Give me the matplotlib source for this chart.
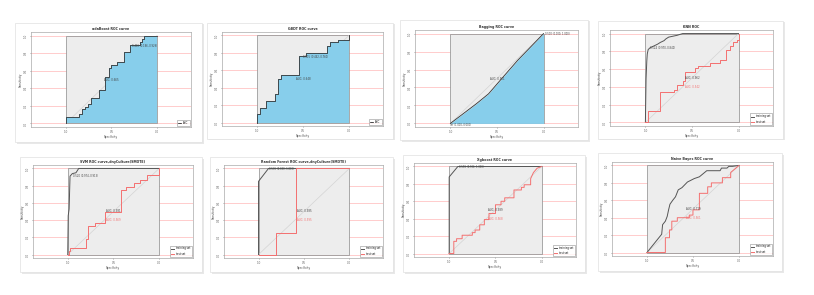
import matplotlib
matplotlib.use("Agg")
import matplotlib.pyplot as plt
from matplotlib.patches import Rectangle

W, H = 814, 295

titles = ["adaBoost ROC curve", "GBDT ROC curve", "Bagging ROC curve", "KNN ROC",
          "SVM ROC curve,dnyCulture(SMOTE)", "Random Forest ROC curve,dnyCulture(SMOTE)",
          "Xgboost ROC curve", "Naive Bayes ROC curve"]

# ---- panel 1: adaBoost (single curve, filled) ----
p1_fpr = [0, 0, 0.14, 0.14, 0.18, 0.18, 0.21, 0.21, 0.24, 0.24, 0.28, 0.28, 0.36, 0.36,
          0.43, 0.43, 0.47, 0.47, 0.50, 0.50, 0.56, 0.56, 0.64, 0.64, 0.70, 0.70,
          0.81, 0.81, 0.83, 0.83, 0.86, 0.86, 1.0]
p1_tpr = [0, 0.076, 0.076, 0.11, 0.11, 0.16, 0.16, 0.19, 0.19, 0.22, 0.22, 0.29, 0.29, 0.375,
          0.375, 0.53, 0.53, 0.63, 0.63, 0.66, 0.66, 0.70, 0.70, 0.81, 0.81, 0.89,
          0.89, 0.93, 0.93, 0.965, 0.965, 1.0, 1.0]
# ---- panel 2: GBDT ----
p2_fpr = [0, 0, 0.037, 0.037, 0.10, 0.10, 0.20, 0.20, 0.23, 0.23, 0.26, 0.26, 0.46, 0.46,
          0.53, 0.53, 0.76, 0.76, 0.79, 0.79, 0.885, 0.885, 1.0, 1.0]
p2_tpr = [0, 0.095, 0.095, 0.17, 0.17, 0.25, 0.25, 0.33, 0.33, 0.50, 0.50, 0.55, 0.55, 0.76,
          0.76, 0.80, 0.80, 0.875, 0.875, 0.92, 0.92, 0.95, 0.95, 1.0]
# ---- panel 3: Bagging ----
p3_fpr = [0, 0.28, 0.41, 0.535, 0.72, 1.0]
p3_tpr = [0, 0.22, 0.33, 0.48, 0.70, 1.0]
# ---- panel 4: KNN (train / test) ----
p4_train_fpr = [0, 0.007, 0.015, 0.02, 0.03, 0.05, 0.09, 0.13, 0.16, 0.20, 0.22, 0.25, 0.34, 0.40, 1.0]
p4_train_tpr = [0, 0.49, 0.69, 0.77, 0.82, 0.84, 0.86, 0.88, 0.90, 0.92, 0.94, 0.96, 0.98, 1.0, 1.0]
p4_test_fpr = [0, 0.03, 0.03, 0.16, 0.16, 0.31, 0.31, 0.34, 0.34, 0.40, 0.40, 0.43, 0.43, 0.53, 0.53,
               0.56, 0.56, 0.69, 0.69, 0.80, 0.80, 0.87, 0.87, 0.91, 0.91, 0.945, 0.945, 0.98, 0.98, 1.0, 1.0]
p4_test_tpr = [0, 0, 0.13, 0.13, 0.34, 0.34, 0.37, 0.37, 0.42, 0.42, 0.47, 0.47, 0.57, 0.57, 0.61,
               0.61, 0.64, 0.64, 0.67, 0.67, 0.70, 0.70, 0.82, 0.82, 0.86, 0.86, 0.90, 0.90, 0.93, 0.93, 1.0]
# ---- panel 5: SVM ----
p5_train_fpr = [0, 0.005, 0.015, 0.025, 0.05, 0.09, 0.12, 1.0]
p5_train_tpr = [0, 0.45, 0.53, 0.91, 0.94, 0.95, 1.0, 1.0]
p5_test_fpr = [0, 0.01, 0.01, 0.025, 0.025, 0.20, 0.20, 0.22, 0.22, 0.30, 0.30, 0.41, 0.41, 0.58, 0.58,
               0.64, 0.64, 0.73, 0.73, 0.79, 0.79, 0.865, 0.865, 1.0, 1.0]
p5_test_tpr = [0, 0, 0.04, 0.04, 0.08, 0.08, 0.18, 0.18, 0.33, 0.33, 0.37, 0.37, 0.50, 0.50, 0.75,
               0.75, 0.78, 0.78, 0.835, 0.835, 0.87, 0.87, 0.92, 0.92, 1.0]
# ---- panel 6: Random Forest ----
p6_train_fpr = [0, 0, 0.11, 1.0]
p6_train_tpr = [0, 0.85, 1.0, 1.0]
p6_test_fpr = [0, 0.196, 0.196, 0.41, 0.41, 1.0]
p6_test_tpr = [0, 0, 0.25, 0.25, 1.0, 1.0]
# ---- panel 7: Xgboost ----
p7_train_fpr = [0, 0, 0.094, 1.0]
p7_train_tpr = [0, 0.88, 1.0, 1.0]
p7_test_fpr = [0, 0.05, 0.05, 0.08, 0.08, 0.14, 0.14, 0.25, 0.25, 0.28, 0.28, 0.33, 0.33, 0.38, 0.38,
               0.43, 0.43, 0.50, 0.50, 0.56, 0.56, 0.60, 0.60, 0.70, 0.70, 0.78, 0.78, 0.81, 0.81,
               0.88, 0.88, 0.91, 0.95, 1.0]
p7_test_tpr = [0, 0, 0.14, 0.14, 0.17, 0.17, 0.21, 0.21, 0.24, 0.24, 0.27, 0.27, 0.33, 0.33, 0.39,
               0.39, 0.46, 0.46, 0.56, 0.56, 0.60, 0.60, 0.64, 0.64, 0.73, 0.73, 0.76, 0.76, 0.79,
               0.79, 0.86, 0.93, 0.98, 1.0]
# ---- panel 8: Naive Bayes ----
p8_train_fpr = [0, 0.16, 0.17, 0.20, 0.22, 0.235, 0.25, 0.28, 0.31, 0.34, 0.38, 0.44, 0.515, 0.57,
                0.61, 0.65, 0.795, 0.81, 0.87, 0.89, 0.93, 1.0]
p8_train_tpr = [0, 0.21, 0.32, 0.36, 0.415, 0.49, 0.555, 0.60, 0.64, 0.72, 0.745, 0.81, 0.85, 0.87,
                0.905, 0.94, 0.94, 0.97, 0.97, 0.99, 0.99, 1.0]
p8_test_fpr = [0, 0.20, 0.20, 0.245, 0.245, 0.27, 0.27, 0.33, 0.33, 0.46, 0.46, 0.50, 0.50, 0.57, 0.57,
               0.66, 0.66, 0.70, 0.70, 0.82, 0.82, 0.91, 0.91, 1.0]
p8_test_tpr = [0, 0, 0.17, 0.17, 0.26, 0.26, 0.36, 0.36, 0.40, 0.40, 0.43, 0.43, 0.49, 0.49, 0.68,
               0.68, 0.755, 0.755, 0.80, 0.80, 0.86, 0.86, 0.92, 1.0]

auc_train = ["AUC: 0.665", "AUC: 0.648", "AUC: 0.561", "AUC: 0.962", "AUC: 0.981", "AUC: 0.985", "AUC: 0.989", "AUC: 0.719"]
auc_test = [None, None, None, "AUC: 0.542", "AUC: 0.569", "AUC: 0.595", "AUC: 0.568", "AUC: 0.561"]
thr_labels = ["0.486 (0.186, 0.929)", "0.515 (0.462, 0.760)", "0.500 (0.000, 1.000)",
              "0.524 (0.970, 0.840)", "0.520 (0.974, 0.913)", "0.536 (0.890, 1.000)",
              "0.559 (0.906, 1.000)", None]
thr_labels_extra = [None, None, "Inf (1.000, 0.000)", None, None, None, None, None]
legend_single = ["AUC"]
legend_pair = ["training set", "test set"]

# pixel boxes (left, top, right, bottom)
cards = [(15, 23, 202, 142), (207, 23, 393, 139), (400, 20, 588, 140), (598, 21, 783, 139),
         (20, 157, 202, 272), (210, 157, 393, 272), (403, 155, 585, 272), (598, 153, 782, 271)]
axboxes = [(31, 32, 191, 127), (222, 32, 383, 126), (415, 30, 578, 127), (610, 30, 773, 126),
           (33, 165, 193, 258), (224, 165, 383, 258), (414, 163, 576, 257), (612, 162, 773, 256)]

singles = [(p1_fpr, p1_tpr), (p2_fpr, p2_tpr), (p3_fpr, p3_tpr)]
pairs = [(p4_train_fpr, p4_train_tpr, p4_test_fpr, p4_test_tpr),
         (p5_train_fpr, p5_train_tpr, p5_test_fpr, p5_test_tpr),
         (p6_train_fpr, p6_train_tpr, p6_test_fpr, p6_test_tpr),
         (p7_train_fpr, p7_train_tpr, p7_test_fpr, p7_test_tpr),
         (p8_train_fpr, p8_train_tpr, p8_test_fpr, p8_test_tpr)]
thr_pos = [(0.27, 0.88), (0.50, 0.75), (-0.02, 0.99), (0.95, 0.84), (0.94, 0.91), (0.88, 0.99), (0.89, 0.99), None]
thr_extra_pos = [None, None, (1.0, -0.02), None, None, None, None, None]

fig = plt.figure(figsize=(W / 100, H / 100), dpi=100)
fig.patch.set_facecolor("white")

def fx(px):
    return px / W

def fy(py):
    return 1 - py / H

TXT = "#444444"

for i in range(8):
    l, t, r, b = cards[i]
    # shadow + card
    fig.patches.append(Rectangle((fx(l + 1.5), fy(b + 1.5)), fx(r - l), (b - t) / H,
                                 transform=fig.transFigure, facecolor="#e8e8e8", edgecolor="none", zorder=-3))
    fig.patches.append(Rectangle((fx(l), fy(b)), fx(r - l), (b - t) / H,
                                 transform=fig.transFigure, facecolor="white", edgecolor="#e0e0e0",
                                 linewidth=0.5, zorder=-2))
    al, at, ar, ab = axboxes[i]
    ax = fig.add_axes([fx(al), fy(ab), fx(ar - al), (ab - at) / H])
    ax.set_facecolor("white")
    ax.set_xlim(1.38, -0.37)
    ax.set_ylim(-0.04, 1.04)
    for s in ax.spines.values():
        s.set_color("#aaaaaa")
        s.set_linewidth(0.5)
    for yv in [0, 0.2, 0.4, 0.6, 0.8, 1.0]:
        ax.axhline(yv, color="#ffb8b8", lw=0.5, zorder=1)
    ax.add_patch(Rectangle((0, 0), 1, 1, facecolor="#ededed", edgecolor="#8a8a8a", lw=0.5, zorder=2))
    ax.plot([1, 0], [0, 1], color="#d4d4d4", lw=0.5, zorder=3)
    ax.set_xticks([1.0, 0.5, 0.0])
    ax.set_xticklabels(["1.0", "0.5", "0.0"])
    ax.set_yticks([0, 0.2, 0.4, 0.6, 0.8, 1.0])
    ax.set_yticklabels(["0.0", "0.2", "0.4", "0.6", "0.8", "1.0"], rotation=90, va="center")
    ax.tick_params(labelsize=2.0, length=1, width=0.4, pad=1, colors="#666666")
    ax.set_xlabel("Specificity", fontsize=2.0, labelpad=1, color=TXT)
    ax.set_ylabel("Sensitivity", fontsize=2.0, labelpad=1, color=TXT)
    ax.set_title(titles[i], fontsize=2.3, fontweight="bold", pad=1.5, color="#333333")
    if i < 3:
        fpr, tpr = singles[i]
        spec = [1 - v for v in fpr]
        ax.fill_between(spec, 0, tpr, color="#87ceeb", zorder=4, lw=0)
        ax.plot(spec, tpr, color="#333333", lw=0.6, zorder=5)
        ax.text(0.5, 0.5, auc_train[i], fontsize=1.9, ha="center", va="center", zorder=6, color=TXT)
        if i < 2:
            leg = ax.legend(handles=[plt.Line2D([], [], color="black", lw=0.5)], labels=legend_single,
                            loc="lower right", fontsize=1.8, frameon=True, handlelength=1.5,
                            borderpad=0.4, fancybox=False, edgecolor="#777777")
            leg.get_frame().set_linewidth(0.4)
    else:
        tf, tt, sf, st = pairs[i - 3]
        ax.plot([1 - v for v in tf], tt, color="#555555", lw=0.7, zorder=5, label=legend_pair[0])
        ax.plot([1 - v for v in sf], st, color="#f47070", lw=0.7, zorder=5, label=legend_pair[1])
        ax.text(0.5, 0.5, auc_train[i], fontsize=1.9, ha="center", va="center", zorder=6, color=TXT)
        ax.text(0.5, 0.4, auc_test[i], fontsize=1.9, ha="center", va="center", color="#f47070", zorder=6)
        leg = ax.legend(loc="lower right", fontsize=1.8, frameon=True, handlelength=1.5,
                        borderpad=0.4, fancybox=False, edgecolor="#777777")
        leg.get_frame().set_linewidth(0.4)
    if thr_labels[i] is not None:
        px, py = thr_pos[i]
        ax.text(px, py, thr_labels[i], fontsize=1.8, ha="left", va="center", zorder=6, color=TXT)
    if thr_labels_extra[i] is not None:
        px, py = thr_extra_pos[i]
        ax.text(px, py, thr_labels_extra[i], fontsize=1.8, ha="left", va="center", zorder=6, color=TXT)

fig.savefig("out.png", dpi=100, facecolor="white")
